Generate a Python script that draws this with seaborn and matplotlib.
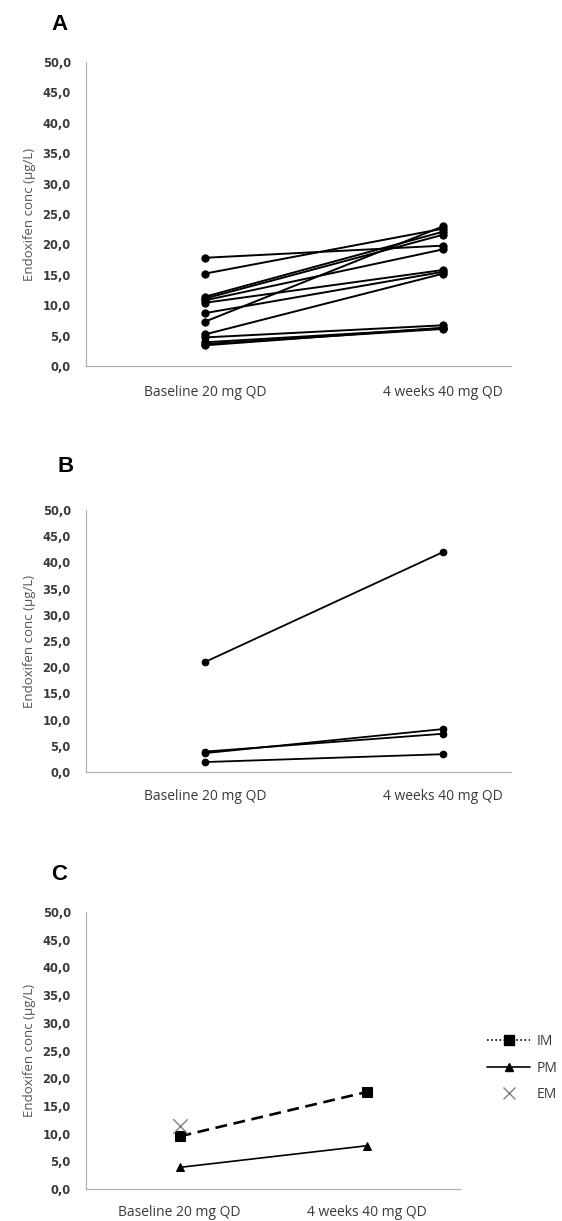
import matplotlib
matplotlib.use("Agg")
import matplotlib.pyplot as plt
from matplotlib.lines import Line2D
from matplotlib.ticker import FixedLocator, FuncFormatter, NullFormatter
import seaborn as sns
import pandas as pd

# ---------------- data ----------------
time_labels = ["Baseline 20 mg QD", "4 weeks 40 mg QD"]
y_ticks = [0, 5, 10, 15, 20, 25, 30, 35, 40, 45, 50]

a_baseline = [17.8, 15.2, 11.4, 11.1, 10.8, 10.4, 8.7, 7.3, 5.2, 4.7, 3.9, 3.6, 3.4]
a_week4 = [19.8, 22.6, 22.1, 21.6, 19.2, 15.8, 15.5, 23.0, 15.2, 6.7, 6.2, 6.1, 6.3]

b_baseline = [21.0, 3.9, 3.6, 1.9]
b_week4 = [42.0, 7.3, 8.2, 3.4]

c_groups = ["IM", "PM", "EM"]
c_im = [9.5, 17.5]
c_pm = [3.9, 7.8]
c_em = [11.4]

# ---------------- style ----------------
sns.set_theme(style="white")
plt.rcParams["font.family"] = ["Open Sans", "DejaVu Sans"]

TXT = "#3a3a3a"
AX = "#b0b0b0"


def long_df(base, wk):
    rows = []
    for i, (b, w) in enumerate(zip(base, wk)):
        rows.append({"subject": i, "time": 0, "value": b})
        rows.append({"subject": i, "time": 1, "value": w})
    return pd.DataFrame(rows)


def style_axis(ax, xmax, pad_lbl):
    ax.set_ylim(0, 50)
    ax.set_xlim(-0.5, xmax)
    ax.yaxis.set_major_locator(FixedLocator(y_ticks))
    ax.yaxis.set_major_formatter(FuncFormatter(lambda v, p: f"{v:.1f}".replace(".", ",")))
    ax.xaxis.set_major_locator(FixedLocator([-0.5, 0.5, 1.5]))
    ax.xaxis.set_major_formatter(NullFormatter())
    ax.xaxis.set_minor_locator(FixedLocator([0, 1]))
    ax.set_xticklabels(time_labels, minor=True)
    ax.tick_params(axis="x", which="minor", length=0, pad=pad_lbl, labelsize=10, labelcolor=TXT)
    ax.tick_params(axis="x", which="major", length=4, width=0.8, color=AX, direction="out")
    ax.tick_params(axis="y", which="major", length=4, width=0.8, color=AX, direction="out",
                   labelsize=8.3, labelcolor=TXT, pad=7)
    for lab in ax.get_yticklabels():
        lab.set_fontweight("bold")
        lab.set_family(["DejaVu Sans"])
    for s in ["top", "right"]:
        ax.spines[s].set_visible(False)
    for s in ["left", "bottom"]:
        ax.spines[s].set_color(AX)
        ax.spines[s].set_linewidth(0.9)
    ax.set_xlabel("")
    ax.set_ylabel("Endoxifen conc (µg/L)", fontsize=9.5, color="#555555", labelpad=5)
    if ax.get_legend() is not None:
        ax.get_legend().remove()


fig = plt.figure(figsize=(5.62, 12.21), dpi=100)
W, H = 562.0, 1221.0


def add_ax(x0, x1, ytop, ybot):
    return fig.add_axes([x0 / W, 1 - ybot / H, (x1 - x0) / W, (ybot - ytop) / H])


# Panel A
axA = add_ax(86, 511, 62, 366)
dfA = long_df(a_baseline, a_week4)
sns.lineplot(data=dfA, x="time", y="value", units="subject", estimator=None,
             color="black", lw=1.4, marker="o", markersize=5.2, markeredgecolor="black",
             ax=axA, legend=False)
style_axis(axA, 1.284, 13.5)

# Panel B
axB = add_ax(86, 511, 510, 772)
dfB = long_df(b_baseline, b_week4)
sns.lineplot(data=dfB, x="time", y="value", units="subject", estimator=None,
             color="black", lw=1.3, marker="o", markersize=4.8, markeredgecolor="black",
             ax=axB, legend=False)
style_axis(axB, 1.284, 12)

# Panel C
axC = add_ax(86, 460, 912, 1189)
dfC = pd.DataFrame({
    "group": ["IM", "IM", "PM", "PM", "EM"],
    "time": [0, 1, 0, 1, 0],
    "value": c_im + c_pm + c_em,
})
sns.lineplot(data=dfC[dfC.group == "IM"], x="time", y="value", color="black", lw=1.9,
             marker="s", markersize=7.5, markeredgecolor="black", ax=axC, legend=False,
             linestyle=(0, (4.5, 2.5)))
sns.lineplot(data=dfC[dfC.group == "PM"], x="time", y="value", color="black", lw=1.2,
             marker="^", markersize=6, markeredgecolor="black", ax=axC, legend=False)
sns.scatterplot(data=dfC[dfC.group == "EM"], x="time", y="value", color="#808080",
                marker="x", s=110, linewidth=1.0, ax=axC, legend=False, zorder=3)
style_axis(axC, 1.5, 11.5)

handles = [
    Line2D([], [], color="black", lw=1.2, linestyle=(0, (1, 1.5)), marker="s", markersize=6.5),
    Line2D([], [], color="black", lw=1.2, linestyle="-", marker="^", markersize=5.5),
    Line2D([], [], color="#808080", lw=0, marker="x", markersize=8.5, markeredgewidth=1.0),
]
fig.legend(handles, c_groups, loc="center left", bbox_to_anchor=(487 / W, 1 - 1068 / H),
           frameon=False, fontsize=10, handlelength=3.1, handletextpad=0.5,
           labelspacing=0.85, borderpad=0, borderaxespad=0, labelcolor=TXT)

# panel letters
for letter, (lx, ly) in zip(["A", "B", "C"], [(59, 25), (66, 467), (59, 875)]):
    fig.text(lx / W, 1 - ly / H, letter, fontsize=16, fontweight="bold",
             family=["Liberation Sans", "DejaVu Sans"], ha="center", va="center", color="black")

fig.savefig("out.png", dpi=100)
